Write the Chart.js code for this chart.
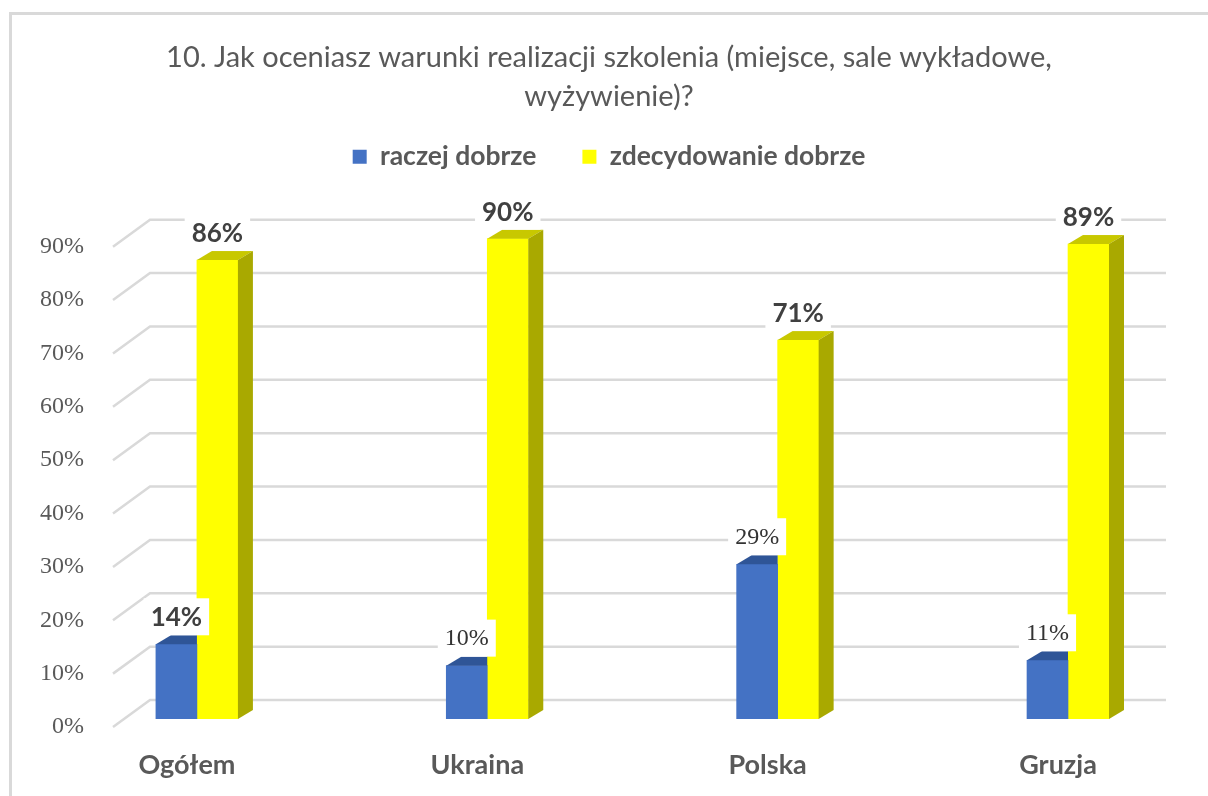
<!DOCTYPE html>
<html>
<head>
<meta charset="UTF-8">
<title>Warunki realizacji szkolenia</title>
<script src="https://cdn.jsdelivr.net/npm/chart.js"></script>
<style>
  html, body { margin: 0; padding: 0; background: #fff; }
  canvas { display: block; }
</style>
</head>
<body>
<canvas id="chart" width="1208" height="796"></canvas>
<script>
const titleLines = ['10. Jak oceniasz warunki realizacji szkolenia (miejsce, sale wykładowe,', 'wyżywienie)?'];
const categories = ['Ogółem', 'Ukraina', 'Polska', 'Gruzja'];
const seriesNames = ['raczej dobrze', 'zdecydowanie dobrze'];
const raczejDobrze = [14, 10, 29, 11];
const zdecydowanieDobrze = [86, 90, 71, 89];
const yTicks = [0, 10, 20, 30, 40, 50, 60, 70, 80, 90];
// Excel wrote some value labels in bold sans, others in plain serif
const boldLabels = [[true, false, false, false], [true, true, true, true]];

const SANS = 'Lato, "Noto Sans", sans-serif';
const SERIF = '"Liberation Serif", "DejaVu Serif", serif';
const shades = [
  { front: '#4472c4', top: '#2f5597', side: '#2f5597' },
  { front: '#ffff00', top: '#c8c800', side: '#a9a900' }
];
const depth = { dx: 15, dy: 9 };              // fake 3d depth of the bars
const wall = { dx: 37, front: 8, back: -19 }; // back wall offsets for the grid

const frame = {
  id: 'frame',
  beforeDraw(chart) {
    const ctx = chart.ctx;
    ctx.save();
    ctx.fillStyle = '#fff';
    ctx.fillRect(0, 0, chart.width, chart.height);
    ctx.strokeStyle = '#d9d9d9';
    ctx.lineWidth = 3;
    ctx.strokeRect(10.5, 13.5, chart.width + 20, chart.height + 20);
    ctx.restore();
  }
};

const wallGrid = {
  id: 'wallGrid',
  beforeDatasetsDraw(chart) {
    const { ctx, chartArea: a, scales: { y } } = chart;
    ctx.save();
    ctx.strokeStyle = '#d9d9d9';
    ctx.lineWidth = 2.5;
    yTicks.forEach(v => {
      const p = y.getPixelForValue(v);
      ctx.beginPath();
      ctx.moveTo(a.left, p + wall.front);
      ctx.lineTo(a.left + wall.dx, p + wall.back);
      ctx.lineTo(a.right, p + wall.back);
      ctx.stroke();
    });
    ctx.restore();
  }
};

const bars3d = {
  id: 'bars3d',
  afterDatasetsDraw(chart) {
    const ctx = chart.ctx;
    const metas = chart.data.datasets.map((d, i) => chart.getDatasetMeta(i));
    const { dx, dy } = depth;
    ctx.save();
    categories.forEach((c, j) => {
      metas.forEach((meta, i) => {
        const { x, y, base, width } = meta.data[j].getProps(['x', 'y', 'base', 'width'], true);
        const l = x - width / 2, r = x + width / 2;
        const last = i === metas.length - 1;
        ctx.fillStyle = shades[i].top;
        ctx.beginPath();
        ctx.moveTo(l, y);
        ctx.lineTo(l + dx, y - dy);
        ctx.lineTo(last ? r + dx : r, y - dy);
        ctx.lineTo(r, y);
        ctx.closePath();
        ctx.fill();
        if (last) {
          ctx.fillStyle = shades[i].side;
          ctx.beginPath();
          ctx.moveTo(r, y);
          ctx.lineTo(r + dx, y - dy);
          ctx.lineTo(r + dx, base - dy);
          ctx.lineTo(r, base);
          ctx.closePath();
          ctx.fill();
        }
      });
    });
    ctx.restore();
  }
};

const valueLabels = {
  id: 'valueLabels',
  afterDatasetsDraw(chart) {
    const ctx = chart.ctx;
    ctx.save();
    ctx.textAlign = 'center';
    ctx.textBaseline = 'middle';
    chart.data.datasets.forEach((ds, i) => {
      chart.getDatasetMeta(i).data.forEach((bar, j) => {
        const { x, y } = bar.getProps(['x', 'y'], true);
        const text = ds.data[j].y + '%';
        const bold = boldLabels[i][j];
        ctx.font = bold ? `bold 26px ${SANS}` : `24px ${SERIF}`;
        const w = ctx.measureText(text).width + 14;
        const h = 37;
        const bottom = y - depth.dy;
        ctx.fillStyle = '#fff';
        ctx.fillRect(x - w / 2, bottom - h, w, h);
        ctx.fillStyle = bold ? '#404040' : '#333333';
        ctx.fillText(text, x, bottom - h / 2 + 1);
      });
    });
    ctx.restore();
  }
};

new Chart(document.getElementById('chart'), {
  type: 'bar',
  data: {
    datasets: [
      { label: seriesNames[0], data: raczejDobrze.map((v, i) => ({ x: i, y: v })), backgroundColor: shades[0].front },
      { label: seriesNames[1], data: zdecydowanieDobrze.map((v, i) => ({ x: i, y: v })), backgroundColor: shades[1].front }
    ]
  },
  plugins: [frame, wallGrid, bars3d, valueLabels],
  options: {
    responsive: false,
    animation: false,
    events: [],
    datasets: { bar: { barThickness: 41, borderWidth: 0 } },
    layout: { padding: { left: 10, right: 0, top: 0, bottom: 0 } },
    plugins: {
      title: {
        display: true,
        text: titleLines,
        color: '#595959',
        font: { family: SANS, size: 29, weight: 'normal', lineHeight: 39 / 29 },
        padding: { top: 38.5, bottom: -19 }
      },
      legend: {
        labels: {
          boxWidth: 14,
          boxHeight: 14,
          padding: 46,
          color: '#595959',
          font: { family: SANS, size: 26.5, weight: 'bold' }
        }
      },
      tooltip: { enabled: false }
    },
    scales: {
      x: {
        type: 'linear',
        offset: false,
        min: -0.289,
        max: 3.3375,
        afterBuildTicks: s => { s.ticks = categories.map((c, i) => ({ value: i })); },
        afterFit: s => { s.height = 77; },
        grid: { display: false },
        border: { display: false },
        ticks: {
          callback: v => categories[v],
          labelOffset: -10,
          padding: 22,
          color: '#595959',
          font: { family: SANS, size: 27, weight: 'bold' }
        }
      },
      y: {
        min: 0,
        max: 101,
        afterBuildTicks: s => { s.ticks = yTicks.map(v => ({ value: v })); },
        afterFit: s => { s.width = 103; },
        grid: { display: false },
        border: { display: false },
        ticks: {
          callback: v => v + '%',
          labelOffset: 8,
          padding: 21,
          color: '#595959',
          font: { family: SERIF, size: 24 }
        }
      },
      pad: {
        position: 'right',
        afterFit: s => { s.width = 42; },
        grid: { display: false },
        border: { display: false },
        ticks: { display: false }
      }
    }
  }
});
</script>
</body>
</html>
